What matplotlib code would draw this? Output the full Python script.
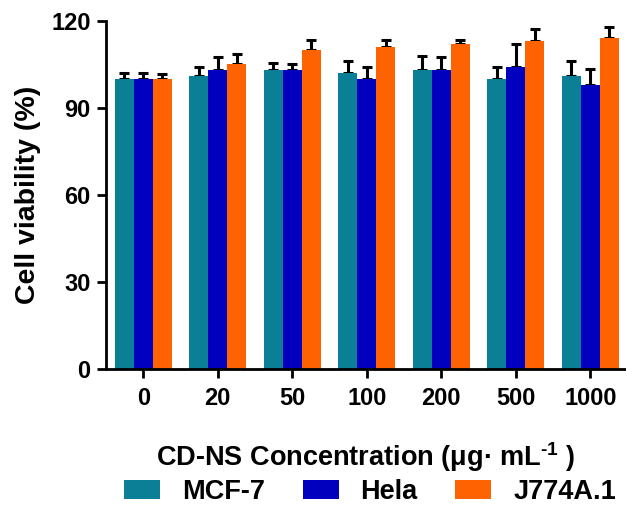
import matplotlib
matplotlib.use("Agg")
import matplotlib.pyplot as plt
import numpy as np

categories = ["0", "20", "50", "100", "200", "500", "1000"]
series_names = ["MCF-7", "Hela", "J774A.1"]
mcf7 = [100, 101, 103, 102, 103, 100, 101]
hela = [100, 103, 103, 100, 103, 104, 98]
j774 = [100, 105, 110, 111, 112, 113, 114]
mcf7_err = [2, 3, 2.5, 4, 5, 4, 5]
hela_err = [2, 4.5, 2, 4, 4.5, 8, 5.5]
j774_err = [1.8, 3.5, 3.5, 2.5, 1.5, 4, 4]
colors = ["#0A7F96", "#0000BE", "#FF6200"]
yticks = [0, 30, 60, 90, 120]

plt.rcParams['font.family'] = ['Liberation Sans', 'DejaVu Sans']
plt.rcParams['font.weight'] = 'bold'
plt.rcParams['mathtext.fontset'] = 'custom'
plt.rcParams['mathtext.rm'] = 'Liberation Sans:bold'
plt.rcParams['mathtext.bf'] = 'Liberation Sans:bold'
plt.rcParams['mathtext.default'] = 'bf'

W, H = 626, 509
fig = plt.figure(figsize=(W / 100, H / 100), dpi=100)
left_px, right_px, top_px, bot_px = 106, 627.5, 20.7, 369.3
ax = fig.add_axes([left_px / W, 1 - bot_px / H, (right_px - left_px) / W, (bot_px - top_px) / H])

x = np.arange(len(categories))
bw = 0.254
data = [mcf7, hela, j774]
errs = [mcf7_err, hela_err, j774_err]
handles = []
for i, (vals, e, c, name) in enumerate(zip(data, errs, colors, series_names)):
    pos = x + (i - 1) * bw
    b = ax.bar(pos, vals, width=bw, color=c, label=name, zorder=2)
    ax.errorbar(pos, vals, yerr=[np.zeros(len(vals)), e], fmt='none', ecolor='black',
                elinewidth=2.2, capsize=3.4, capthick=2.2, zorder=1)
    handles.append(b)

ax.set_xlim(-0.5, len(categories) - 0.5)
ax.set_ylim(0, 120)
ax.set_yticks(yticks)
ax.set_xticks(x)
ax.set_xticklabels(categories)
for s in ['top', 'right']:
    ax.spines[s].set_visible(False)
for s in ['left', 'bottom']:
    ax.spines[s].set_linewidth(2.0)
ax.tick_params(axis='both', width=2.0, length=6.5, labelsize=17)
ax.tick_params(axis='y', pad=4.5)
ax.tick_params(axis='x', pad=6.5)
for lab in ax.get_xticklabels() + ax.get_yticklabels():
    lab.set_fontweight('bold')

ax.set_ylabel("Cell viability (%)", fontsize=20.5, fontweight='bold', labelpad=8)
ax.yaxis.set_label_coords(-0.125, 0.5)

fig.text(366 / W, 1 - 466 / H, r"CD-NS Concentration (μg· mL$^{\text{-1}}$ )", ha='center', va='baseline',
         fontsize=19.5, fontweight='bold')

fig.legend(handles=handles, labels=series_names, loc='center', bbox_to_anchor=(370 / W, 1 - 492 / H),
           ncol=3, frameon=False, handlelength=1.33, handleheight=0.7,
           handletextpad=0.8, columnspacing=1.4, borderpad=0, prop={'weight': 'bold', 'size': 19.5})

fig.savefig("out.png", dpi=100)
